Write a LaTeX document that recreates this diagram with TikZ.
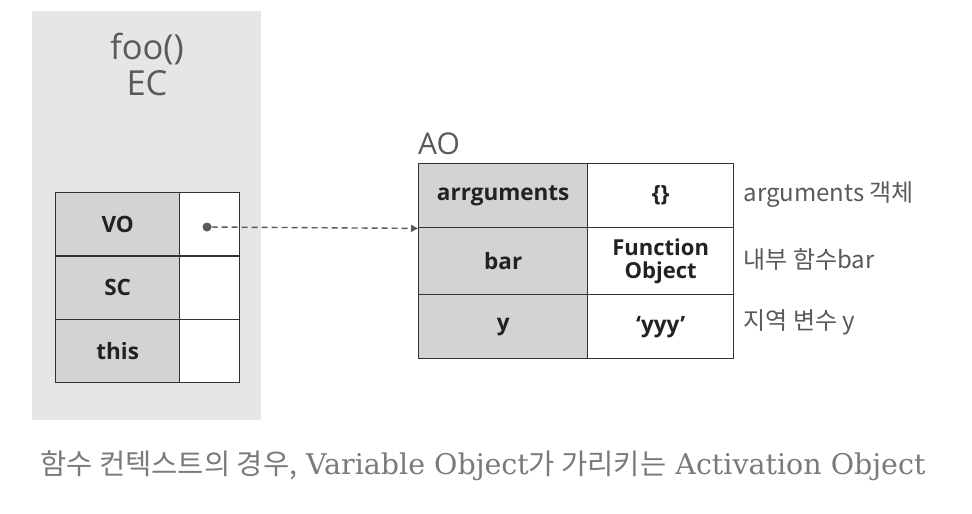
\documentclass[tikz,border=0pt]{standalone}
\usepackage{fontspec}
\setmainfont{Open Sans}
\newfontfamily\kr{Noto Sans CJK KR}
\newfontfamily\capserif{DejaVu Serif}
\usetikzlibrary{arrows.meta}
\definecolor{panelgray}{HTML}{E6E6E6}
\definecolor{keygray}{HTML}{D3D3D3}
\definecolor{linegray}{HTML}{333333}
\definecolor{celltext}{HTML}{222222}
\definecolor{textgray}{HTML}{5A5A5A}
\definecolor{capgray}{HTML}{7A7A7A}
\tikzset{
	cell/.style={draw=linegray,line width=1.4pt,inner sep=0pt,anchor=north west,align=center,text=celltext,font=\bfseries\fontsize{22.5}{24}\selectfont},
	keycell/.style={cell,fill=keygray},
	valcell/.style={cell,fill=white},
	note/.style={anchor=west,text=textgray,font=\kr\fontsize{24}{26}\selectfont},
}
\begin{document}
\begin{tikzpicture}[x=1pt,y=-1pt]
	\useasboundingbox[fill=white] (0,0) rectangle (972,514);
	% execution context panel
	\fill[panelgray] (32,11) rectangle (261,420);
	\node[text=textgray,align=center,font=\fontsize{34.5}{36}\selectfont] (ec) at (147,64) {foo()\\EC};
	% variable object etc.
	\node[keycell,minimum width=124pt,minimum height=63.3pt] (vo) at (55,192) {VO};
	\node[valcell,minimum width=60pt,minimum height=63.3pt] (voval) at (179,192) {};
	\node[keycell,minimum width=124pt,minimum height=63.3pt] (sc) at (55,255.3) {SC};
	\node[valcell,minimum width=60pt,minimum height=63.3pt] (scval) at (179,255.3) {};
	\node[keycell,minimum width=124pt,minimum height=63.3pt] (this) at (55,318.6) {this};
	\node[valcell,minimum width=60pt,minimum height=63.3pt] (thisval) at (179,318.6) {};
	% activation object
	\node[anchor=south west,inner sep=0pt,text=textgray,font=\fontsize{30}{30}\selectfont] (ao) at (418,155) {AO};
	\node[keycell,minimum width=169pt,minimum height=64pt] (args) at (418,163) {arrguments};
	\node[valcell,minimum width=146pt,minimum height=64pt] (argsval) at (587,163) {\{\}};
	\node[keycell,minimum width=169pt,minimum height=67pt] (bar) at (418,227) {bar};
	\node[valcell,minimum width=146pt,minimum height=67pt,font=\bfseries\fontsize{22}{23}\selectfont] (barval) at (587,227) {Function\\Object};
	\node[keycell,minimum width=169pt,minimum height=64pt] (y) at (418,294) {y};
	\node[valcell,minimum width=146pt,minimum height=64pt] (yval) at (587,294) {‘yyy’};
	% notes
	\node[note] (n1) at (740,195) {arguments 객체};
	\node[note] (n2) at (740,259) {내부 함수bar};
	\node[note] (n3) at (740,322) {지역 변수 y};
	% pointer
	\node[circle,fill=textgray,inner sep=0pt,minimum size=9pt] (dot) at (207,227) {};
	\draw[textgray,line width=1.4pt,dash pattern=on 6pt off 4pt,-{Triangle[length=7pt,width=7pt]}] (dot) -- (args.south west);
	% caption
	\node[text=capgray,font=\fontsize{28.5}{32}\selectfont] (cap) at (483,466) {\kr 함수 컨텍스트의 경우,\capserif{} Variable Object\kr 가 가리키는\capserif{} Activation Object};
\end{tikzpicture}
\end{document}
